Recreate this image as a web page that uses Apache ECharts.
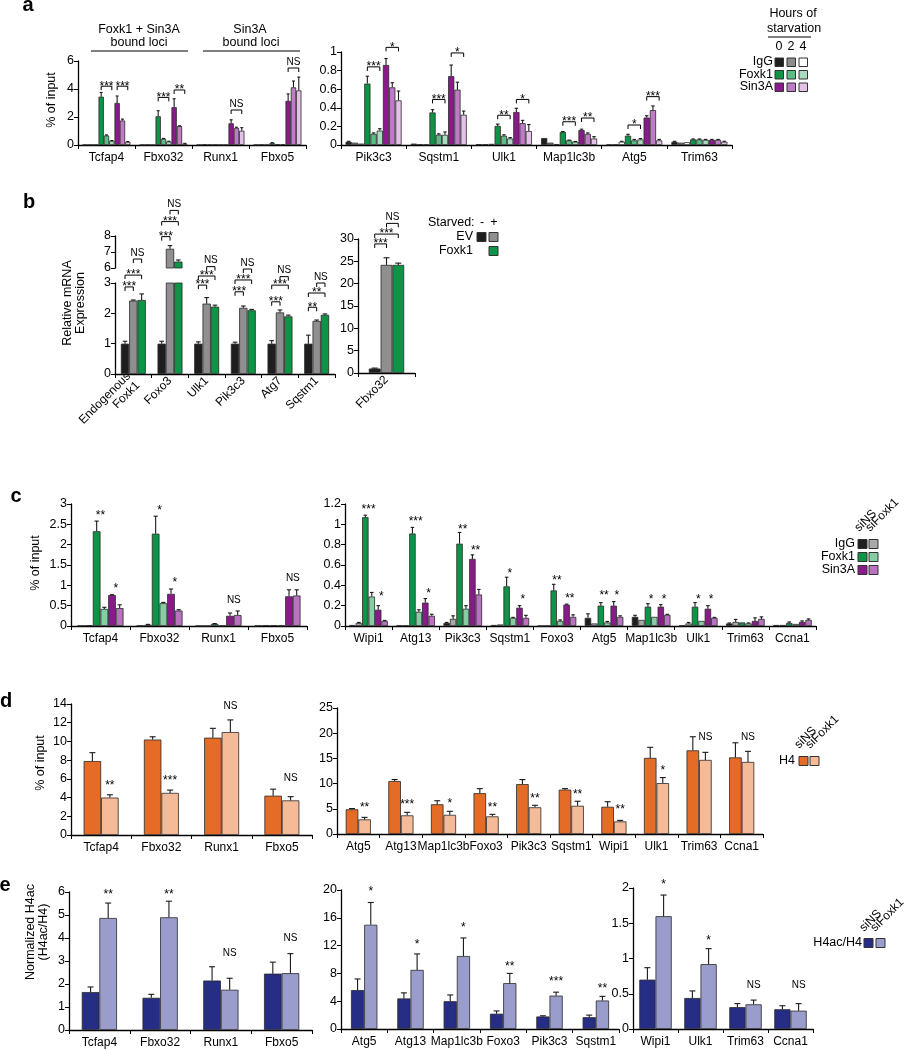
<!DOCTYPE html>
<html><head><meta charset="utf-8"><title>Foxk1 figure</title>
<script src="https://cdn.jsdelivr.net/npm/echarts@6/dist/echarts.min.js"></script>
<style>html,body{margin:0;padding:0;background:#fff;}#chart{width:910px;height:1050px;}</style>
</head><body><div id="chart"></div>
<script>
// ================= DATA =================
// ---- Panel a : ChIP, hours of starvation ----
const aLeftCats = ['Tcfap4','Fbxo32','Runx1','Fbxo5'];
const aRightCats = ['Pik3c3','Sqstm1','Ulk1','Map1lc3b','Atg5','Trim63'];
const aGroups = ['IgG','Foxk1','Sin3A'];
const aHours = ['0','2','4'];
// order per locus: IgG 0/2/4 h, Foxk1 0/2/4 h, Sin3A 0/2/4 h
const aTcfap4    = [0.02,0.02,0.02, 3.45,0.68,0.30, 3.00,1.75,0.22];
const aTcfap4Err = [0,0,0, 0.30,0.04,0.02, 0.50,0.10,0.03];
const aFbxo32    = [0.02,0.02,0.02, 2.05,0.45,0.25, 2.70,1.35,0.10];
const aFbxo32Err = [0,0,0, 0.40,0.02,0.02, 0.60,0.02,0.02];
const aRunx1     = [0.02,0.05,0.03, 0.03,0.02,0.02, 1.55,1.22,1.02];
const aRunx1Err  = [0,0,0, 0,0,0, 0.25,0.05,0.22];
const aFbxo5     = [0.02,0.03,0.02, 0.15,0.05,0.05, 3.15,4.12,3.90];
const aFbxo5Err  = [0,0,0, 0.02,0,0, 0.50,0.45,0.95];
const aPik3c3    = [0.035,0.025,0.015, 0.66,0.12,0.155, 0.86,0.62,0.48];
const aPik3c3Err = [0.005,0,0, 0.08,0.01,0.02, 0.07,0.05,0.10];
const aSqstm1    = [0.015,0.008,0.005, 0.35,0.11,0.11, 0.74,0.595,0.325];
const aSqstm1Err = [0,0,0, 0.03,0.01,0.03, 0.12,0.08,0.04];
const aUlk1      = [0.01,0.008,0.012, 0.205,0.10,0.07, 0.355,0.235,0.15];
const aUlk1Err   = [0,0,0, 0.02,0.01,0.01, 0.04,0.03,0.07];
const aMap1lc3b    = [0.075,0.025,0.01, 0.14,0.05,0.035, 0.16,0.12,0.07];
const aMap1lc3bErr = [0,0,0, 0.005,0.003,0.003, 0.01,0.01,0.02];
const aAtg5      = [0.005,0.005,0.035, 0.10,0.05,0.06, 0.295,0.375,0.05];
const aAtg5Err   = [0,0,0.005, 0.015,0.01,0.01, 0.02,0.045,0.01];
const aTrim63    = [0.035,0.025,0.03, 0.06,0.06,0.055, 0.055,0.055,0.035];
const aTrim63Err = [0.005,0,0, 0.005,0.005,0.005, 0.005,0.005,0.005];
// significance brackets: [locus, y, fromBar, toBar, label]
const aLeftSig  = [[0,4.2,3,5,'***'],[0,4.2,6,8,'***'],[1,3.4,3,5,'***'],[1,3.93,6,8,'**'],[2,2.5,6,8,'NS'],[3,5.5,6,8,'NS']];
const aRightSig = [[0,0.84,3,5,'***'],[0,1.05,6,8,'*'],[1,0.49,3,5,'***'],[1,0.99,6,8,'*'],[2,0.32,3,5,'**'],[2,0.49,6,8,'*'],
                   [3,0.25,3,5,'***'],[3,0.29,6,8,'**'],[4,0.215,3,5,'*'],[4,0.52,6,8,'***']];

// ---- Panel b : relative mRNA expression ----
const bLeftCats = ['Endogenous\nFoxk1','Foxo3','Ulk1','Pik3c3','Atg7','Sqstm1'];
const bRightCats = ['Fbxo32'];
const bSeries = ['EV -','EV +','Foxk1 +'];
const bEV0     = [1.0,1.0,1.0,1.0,1.0,1.0];
const bEV0Err  = [0.08,0.08,0.06,0.05,0.10,0.28];
const bEV1     = [2.42,7.2,2.32,2.18,2.03,1.75];
const bEV1Err  = [0.02,0.2,0.2,0.06,0.08,0.03];
const bFox     = [2.44,6.4,2.22,2.10,1.90,1.95];
const bFoxErr  = [0.2,0.1,0.05,0.03,0.04,0.03];
const bFbxo32    = [1.0,24.2,24.2];
const bFbxo32Err = [0.1,1.6,0.4];
const bLowerSig = [[0,2.87,0,1,'***'],[0,3.26,0,2,'***'],[0,3.79,1,2,'NS'],
                   [2,2.93,0,1,'***'],[2,3.23,0,2,'***'],[2,3.54,1,2,'NS'],
                   [3,2.71,0,1,'***'],[3,3.10,0,2,'***'],[3,3.46,1,2,'NS'],
                   [4,2.38,0,1,'***'],[4,2.93,0,2,'***'],[4,3.21,1,2,'NS'],
                   [5,2.20,0,1,'**'],[5,2.67,0,2,'**'],[5,3.00,1,2,'NS']];
const bUpperSig = [[1,7.96,0,1,'***'],[1,8.9,0,2,'***'],[1,9.6,1,2,'NS']];
const bRightSig = [[0,28.9,0,1,'***'],[0,31.1,0,2,'***'],[0,33.5,1,2,'NS']];

// ---- Panel c : ChIP siNS / siFoxk1 ----
const cLeftCats = ['Tcfap4','Fbxo32','Runx1','Fbxo5'];
const cRightCats = ['Wipi1','Atg13','Pik3c3','Sqstm1','Foxo3','Atg5','Map1lc3b','Ulk1','Trim63','Ccna1'];
// order per locus: IgG siNS/siFoxk1, Foxk1 siNS/siFoxk1, Sin3A siNS/siFoxk1
const cTcfap4    = [0.01,0.02, 2.33,0.42, 0.76,0.44];
const cTcfap4Err = [0,0, 0.25,0.04, 0.01,0.08];
const cFbxo32    = [0.01,0.03, 2.27,0.56, 0.79,0.38];
const cFbxo32Err = [0,0.01, 0.43,0.02, 0.12,0.02];
const cRunx1     = [0.005,0.005, 0.05,0.01, 0.25,0.27];
const cRunx1Err  = [0,0, 0.01,0, 0.07,0.10];
const cFbxo5     = [0.01,0.02, 0.02,0.01, 0.73,0.75];
const cFbxo5Err  = [0,0, 0,0, 0.16,0.14];
const cWipi1     = [0.01,0.03, 1.07,0.29, 0.16,0.05];
const cWipi1Err  = [0,0.005, 0.02,0.04, 0.04,0.005];
const cAtg13     = [0.005,0.005, 0.91,0.14, 0.23,0.10];
const cAtg13Err  = [0,0, 0.06,0.02, 0.04,0.015];
const cPik3c3    = [0.03,0.07, 0.81,0.17, 0.66,0.31];
const cPik3c3Err = [0.005,0.03, 0.11,0.03, 0.04,0.05];
const cSqstm1    = [0.01,0.015, 0.39,0.08, 0.18,0.08];
const cSqstm1Err = [0,0, 0.09,0.005, 0.02,0.025];
const cFoxo3     = [0.002,0.003, 0.35,0.05, 0.21,0.09];
const cFoxo3Err  = [0,0, 0.06,0.01, 0.005,0.02];
const cAtg5      = [0.08,0.025, 0.20,0.035, 0.20,0.09];
const cAtg5Err   = [0.04,0, 0.03,0.01, 0.04,0.01];
const cMap1lc3b    = [0.09,0.06, 0.19,0.09, 0.19,0.11];
const cMap1lc3bErr = [0.015,0, 0.03,0, 0.02,0.005];
const cUlk1      = [0.005,0.025, 0.19,0.05, 0.17,0.08];
const cUlk1Err   = [0,0.01, 0.04,0, 0.03,0.005];
const cTrim63    = [0.025,0.04, 0.035,0.025, 0.05,0.07];
const cTrim63Err = [0.005,0.025, 0,0.005, 0.03,0.02];
const cCcna1     = [0.01,0.01, 0.03,0.02, 0.04,0.06];
const cCcna1Err  = [0,0, 0.01,0, 0.01,0.01];
// significance labels: [locus, y, position (in bar widths), label]
const cLeftSig  = [[0,2.78,3,'**'],[0,1.0,5,'*'],[1,2.9,3,'*'],[1,1.13,5,'*'],[2,0.64,5,'NS'],[3,1.18,5,'NS']];
const cRightSig = [[0,1.17,3,'***'],[0,0.32,5,'*'],[1,1.06,3,'***'],[1,0.35,5,'*'],[2,0.98,3,'**'],[2,0.77,5,'**'],
                   [3,0.54,3,'*'],[3,0.29,5,'*'],[4,0.48,3,'**'],[4,0.30,5,'**'],[5,0.33,3,'**'],[5,0.33,5,'*'],
                   [6,0.29,3,'*'],[6,0.29,5,'*'],[7,0.29,3,'*'],[7,0.29,5,'*']];

// ---- Panel d : H4 ChIP ----
const dLeftCats = ['Tcfap4','Fbxo32','Runx1','Fbxo5'];
const dRightCats = ['Atg5','Atg13','Map1lc3b','Foxo3','Pik3c3','Sqstm1','Wipi1','Ulk1','Trim63','Ccna1'];
const dLeftSiNS      = [7.9,10.2,10.4,4.2];
const dLeftSiNSErr   = [0.9,0.3,1.0,0.7];
const dLeftSiFoxk1   = [4.0,4.5,11.0,3.7];
const dLeftSiFoxk1Err= [0.3,0.3,1.3,0.4];
const dRightSiNS      = [4.9,10.5,5.9,8.1,9.9,8.8,5.4,15.1,16.6,15.2];
const dRightSiNSErr   = [0.15,0.3,0.7,0.9,0.9,0.2,1.0,2.1,2.7,2.9];
const dRightSiFoxk1   = [2.9,3.7,3.8,3.5,5.3,5.6,2.5,10.1,14.7,14.3];
const dRightSiFoxk1Err= [0.4,0.6,0.7,0.4,0.4,0.9,0.2,1.1,1.5,2.1];
const dLeftSig  = [[0,5.6,1.5,'**'],[1,6.1,1.5,'***'],[2,13.8,1.5,'NS'],[3,6.1,1.5,'NS']];
const dRightSig = [[0,5.75,1.5,'**'],[1,6.4,1.5,'***'],[2,6.7,1.5,'*'],[3,5.75,1.5,'**'],[4,7.7,1.5,'**'],
                   [5,8.4,1.5,'**'],[6,5.4,1.5,'**'],[7,13.2,1.5,'*'],[8,19.1,1.5,'NS'],[9,19.1,1.5,'NS']];

// ---- Panel e : normalized H4ac ----
const eLeftCats = ['Tcfap4','Fbxo32','Runx1','Fbxo5'];
const eMidCats = ['Atg5','Atg13','Map1lc3b','Foxo3','Pik3c3','Sqstm1'];
const eRightCats = ['Wipi1','Ulk1','Trim63','Ccna1'];
const eLeftSiNS       = [1.65,1.40,2.15,2.45];
const eLeftSiNSErr    = [0.22,0.15,0.60,0.50];
const eLeftSiFoxk1    = [4.87,4.90,1.75,2.47];
const eLeftSiFoxk1Err = [0.65,0.70,0.50,0.85];
const eMidSiNS        = [5.6,4.4,4.0,2.2,1.8,1.7];
const eMidSiNSErr     = [1.6,0.8,0.9,0.4,0.1,0.3];
const eMidSiFoxk1     = [15.0,8.5,10.5,6.6,4.8,4.1];
const eMidSiFoxk1Err  = [3.2,2.3,2.6,1.4,0.5,0.6];
const eRightSiNS      = [0.70,0.44,0.31,0.28];
const eRightSiNSErr   = [0.17,0.10,0.05,0.05];
const eRightSiFoxk1   = [1.60,0.92,0.35,0.26];
const eRightSiFoxk1Err= [0.30,0.22,0.06,0.10];
const eLeftSig  = [[0,6.0,1.5,'**'],[1,6.0,1.5,'**'],[2,3.34,1.5,'NS'],[3,4.0,1.5,'NS']];
const eMidSig   = [[0,20.2,1.5,'*'],[1,12.6,1.5,'*'],[2,15.0,1.5,'*'],[3,9.45,1.5,'**'],[4,7.3,1.5,'***'],[5,6.3,1.5,'**']];
const eRightSig = [[0,2.09,1.5,'*'],[1,1.29,1.5,'*'],[2,0.62,1.5,'NS'],[3,0.62,1.5,'NS']];

// ================= STYLE =================
const FONT = '"Liberation Sans", Arial, Helvetica, sans-serif';
const A_COLORS = ['#1e1e1e','#8c8c8c','#ffffff','#0e9447','#5bbd85','#a9dcbf','#8a1a8a','#bf7cc6','#e4c1e7'];
const B_COLORS = ['#1e1e1e','#8f8f8f','#0e9447'];
const C_COLORS = ['#1e1e1e','#a8a8a8','#0e9447','#86cda3','#8a1a8a','#b872bf'];
const D_COLORS = ['#e46c26','#f5bb98'];
const E_COLORS = ['#262d84','#9a9dcb'];

const option = {animation:false, backgroundColor:'#ffffff', grid:[], xAxis:[], yAxis:[], series:[], graphic:[]};

function transpose(rows){ return rows[0].map((_,i)=>rows.map(r=>r[i])); }
function tStyle(text, size, align, valign, weight){
  return {text:text, fill:'#000', fontSize:size, fontFamily:FONT, fontWeight:weight||'normal',
          textAlign:align, textVerticalAlign:valign, align:align, verticalAlign:valign};
}
function barX(api, c, pos, n, gap){
  const band = api.size([1,0])[0];
  const total = band*(1-gap);
  return api.coord([c,0])[0] - total/2 + total/n*pos;
}
function errRenderer(n, gap){
  return function(params, api){
    const c = api.value(0), v = api.value(1), e = api.value(2), i = api.value(3);
    const x = barX(api, c, i+0.5, n, gap);
    const y0 = api.coord([c, v])[1], y1 = api.coord([c, v+e])[1];
    const w = api.size([1,0])[0]*(1-gap)/n;
    const cap = Math.min(Math.max(w*0.55, 3), 6);
    return {type:'group', children:[
      {type:'line', shape:{x1:x,y1:y0,x2:x,y2:y1}, style:{stroke:'#1a1a1a', lineWidth:1.1}},
      {type:'line', shape:{x1:x-cap/2,y1:y1,x2:x+cap/2,y2:y1}, style:{stroke:'#1a1a1a', lineWidth:1.1}}
    ]};
  };
}
function bracketRenderer(list, n, gap){
  return function(params, api){
    const d = list[params.dataIndex];
    const c = d[0];
    const x1 = barX(api,c,d[2]+0.5,n,gap), x2 = barX(api,c,d[3]+0.5,n,gap);
    const py = api.coord([c,d[1]])[1];
    const star = d[4].indexOf('*')>=0;
    return {type:'group', children:[
      {type:'polyline', shape:{points:[[x1,py+4],[x1,py],[x2,py],[x2,py+4]]}, style:{stroke:'#000', fill:null, lineWidth:1}},
      {type:'text', x:(x1+x2)/2, y: star ? py+6 : py-1, style:tStyle(d[4], star?12:10, 'center', 'bottom')}
    ]};
  };
}
function labelRenderer(list, n, gap){
  return function(params, api){
    const d = list[params.dataIndex];
    const x = barX(api, d[0], d[2], n, gap);
    const py = api.coord([d[0], d[1]])[1];
    const star = d[3].indexOf('*')>=0;
    return {type:'text', x:x, y: star ? py+3 : py, style:tStyle(d[3], star?12:10, 'center', 'middle')};
  };
}

function addPanel(p){
  const gi = option.grid.length;
  const n = p.vals.length;
  const showX = p.xLine !== false;
  option.grid.push({left:p.left, top:p.top, width:p.width, height:p.height, containLabel:false});
  option.xAxis.push({type:'category', gridIndex:gi, data:p.cats, boundaryGap:true, show:true,
    axisLine:{show:showX, onZero:false, lineStyle:{color:'#000', width:1.3}},
    axisTick:{show:showX, length:4, lineStyle:{color:'#000', width:1}},
    splitLine:{show:false},
    axisLabel:{show:p.xLabels !== false, interval:0, rotate:p.rotate||0, margin:p.margin||6,
               color:'#000', fontSize:12, fontFamily:FONT, lineHeight:13}});
  option.yAxis.push({type:'value', gridIndex:gi, min:p.min, max:p.max, interval:p.interval,
    axisLine:{show:true, lineStyle:{color:'#000', width:1.3}},
    axisTick:{show:true, length:4, lineStyle:{color:'#000', width:1}},
    splitLine:{show:false},
    axisLabel:{margin:4, color:'#000', fontSize:12.5, fontFamily:FONT}});
  const keep = p.keep || (()=>true);
  p.vals.forEach((row,i)=>{
    option.series.push({type:'bar', name:(p.names? p.names[i] : 's'+i), xAxisIndex:gi, yAxisIndex:gi,
      barGap:'0%', barCategoryGap:(p.gap*100)+'%', clip:true, silent:true, z:2,
      data:row.map(v=>keep(v) ? v : '-'),
      itemStyle:{color:p.colors[i], borderColor:'#2a2a2a', borderWidth:0.8}});
  });
  const errData = [];
  p.vals.forEach((row,i)=>row.forEach((v,c)=>{
    const e = p.errs[i][c];
    if (e > 0 && keep(v) && v+e <= p.max) errData.push([c, v, e, i]);
  }));
  option.series.push({type:'custom', xAxisIndex:gi, yAxisIndex:gi, silent:true, z:3,
    data:errData, renderItem:errRenderer(n, p.gap)});
  if (p.brackets) option.series.push({type:'custom', xAxisIndex:gi, yAxisIndex:gi, silent:true, z:4, clip:false,
    data:p.brackets.map(d=>[d[0], d[1]]), renderItem:bracketRenderer(p.brackets, n, p.gap)});
  if (p.labels) option.series.push({type:'custom', xAxisIndex:gi, yAxisIndex:gi, silent:true, z:4, clip:false,
    data:p.labels.map(d=>[d[0], d[1]]), renderItem:labelRenderer(p.labels, n, p.gap)});
}

// ---- panel a ----
addPanel({left:78, top:61, width:228, height:84, min:0, max:6, interval:2, gap:0.16, colors:A_COLORS, cats:aLeftCats,
  vals:transpose([aTcfap4,aFbxo32,aRunx1,aFbxo5]), errs:transpose([aTcfap4Err,aFbxo32Err,aRunx1Err,aFbxo5Err]), brackets:aLeftSig});
addPanel({left:341, top:52, width:391, height:93, min:0, max:1, interval:0.2, gap:0.14, colors:A_COLORS, cats:aRightCats,
  vals:transpose([aPik3c3,aSqstm1,aUlk1,aMap1lc3b,aAtg5,aTrim63]),
  errs:transpose([aPik3c3Err,aSqstm1Err,aUlk1Err,aMap1lc3bErr,aAtg5Err,aTrim63Err]), brackets:aRightSig});
// ---- panel b (broken axis: lower 0-3, upper 6-8) ----
addPanel({left:115, top:283, width:220, height:91, min:0, max:3, interval:1, gap:0.32, colors:B_COLORS, cats:bLeftCats, names:bSeries,
  rotate:45, margin:5, vals:[bEV0,bEV1,bFox], errs:[bEV0Err,bEV1Err,bFoxErr], brackets:bLowerSig});
addPanel({left:115, top:236, width:220, height:32, min:6, max:8, interval:1, gap:0.32, colors:B_COLORS, cats:bLeftCats, names:bSeries,
  xLine:false, xLabels:false, keep:v=>v>=6, vals:[bEV0,bEV1,bFox], errs:[bEV0Err,bEV1Err,bFoxErr], brackets:bUpperSig});
addPanel({left:358, top:239, width:57, height:134, min:0, max:30, interval:5, gap:0.38, colors:B_COLORS, cats:bRightCats, names:bSeries,
  rotate:45, margin:5, vals:bFbxo32.map(v=>[v]), errs:bFbxo32Err.map(v=>[v]), brackets:bRightSig});
// ---- panel c ----
addPanel({left:71, top:504, width:236, height:122, min:0, max:3, interval:0.5, gap:0.22, colors:C_COLORS, cats:cLeftCats,
  vals:transpose([cTcfap4,cFbxo32,cRunx1,cFbxo5]), errs:transpose([cTcfap4Err,cFbxo32Err,cRunx1Err,cFbxo5Err]), labels:cLeftSig});
addPanel({left:345, top:504, width:471, height:122, min:0, max:1.2, interval:0.2, gap:0.18, colors:C_COLORS, cats:cRightCats,
  vals:transpose([cWipi1,cAtg13,cPik3c3,cSqstm1,cFoxo3,cAtg5,cMap1lc3b,cUlk1,cTrim63,cCcna1]),
  errs:transpose([cWipi1Err,cAtg13Err,cPik3c3Err,cSqstm1Err,cFoxo3Err,cAtg5Err,cMap1lc3bErr,cUlk1Err,cTrim63Err,cCcna1Err]), labels:cRightSig});
// ---- panel d ----
addPanel({left:71, top:704, width:241, height:131, min:0, max:14, interval:2, gap:0.42, colors:D_COLORS, cats:dLeftCats,
  vals:[dLeftSiNS,dLeftSiFoxk1], errs:[dLeftSiNSErr,dLeftSiFoxk1Err], labels:dLeftSig});
addPanel({left:337, top:708, width:426, height:126, min:0, max:25, interval:5, gap:0.41, colors:D_COLORS, cats:dRightCats,
  vals:[dRightSiNS,dRightSiFoxk1], errs:[dRightSiNSErr,dRightSiFoxk1Err], labels:dRightSig});
// ---- panel e ----
addPanel({left:69, top:892, width:243, height:138, min:0, max:6, interval:1, gap:0.42, colors:E_COLORS, cats:eLeftCats,
  vals:[eLeftSiNS,eLeftSiFoxk1], errs:[eLeftSiNSErr,eLeftSiFoxk1Err], labels:eLeftSig});
addPanel({left:341, top:890, width:278, height:139, min:0, max:20, interval:4, gap:0.43, colors:E_COLORS, cats:eMidCats,
  vals:[eMidSiNS,eMidSiFoxk1], errs:[eMidSiNSErr,eMidSiFoxk1Err], labels:eMidSig});
addPanel({left:633, top:888, width:180, height:141, min:0, max:2, interval:0.5, gap:0.28, colors:E_COLORS, cats:eRightCats,
  vals:[eRightSiNS,eRightSiFoxk1], errs:[eRightSiNSErr,eRightSiFoxk1Err], labels:eRightSig});

// ================= GRAPHICS (letters, titles, legends) =================
const G = option.graphic;
function txt(x, y, s, size, align, valign, weight, rot){
  G.push({type:'text', x:x, y:y, rotation:rot||0, silent:true, style:tStyle(s, size, align||'center', valign||'middle', weight)});
}
function line(x1,y1,x2,y2){ G.push({type:'line', silent:true, shape:{x1,y1,x2,y2}, style:{stroke:'#000', lineWidth:1}}); }
function sq(x, y, fill, s){ s=s||9; G.push({type:'rect', silent:true, shape:{x:x, y:y, width:s, height:s}, style:{fill:fill, stroke:'#333', lineWidth:1}}); }

// panel letters
txt(28, 5, 'a', 20, 'center', 'middle', 'bold');
txt(29, 202, 'b', 20, 'center', 'middle', 'bold');
txt(16, 496, 'c', 20, 'center', 'middle', 'bold');
txt(6, 701, 'd', 20, 'center', 'middle', 'bold');
txt(5, 885, 'e', 20, 'center', 'middle', 'bold');

// y-axis names
const R = Math.PI/2;
txt(52, 100, '% of input', 12.5, 'center', 'middle', 'normal', R);
txt(74, 303, 'Relative mRNA\nExpression', 12.5, 'center', 'middle', 'normal', R);
txt(36, 563, '% of input', 12.5, 'center', 'middle', 'normal', R);
txt(41, 763, '% of input', 12.5, 'center', 'middle', 'normal', R);
txt(37, 932, 'Normalized H4ac\n(H4ac/H4)', 12.5, 'center', 'middle', 'normal', R);

// panel a header
txt(139, 30, 'Foxk1 + Sin3A', 12.5); txt(139, 43, 'bound loci', 12.5); line(91, 51, 188, 51);
txt(250, 30, 'Sin3A', 12.5); txt(251, 43, 'bound loci', 12.5); line(203, 51, 300, 51);

// panel a legend
txt(793, 14, 'Hours of', 12.5); txt(794, 29, 'starvation', 12.5); line(768, 37, 811, 37);
aHours.forEach((h,j)=>txt(779+j*12, 47, h, 12.5));
aGroups.forEach((g,r)=>{
  txt(773, 62+r*12.5, g, 12.5, 'right');
  for (let j=0;j<3;j++) sq(775+j*12, 58+r*12.5, A_COLORS[r*3+j], 8.5);
});

// panel b legend
txt(428, 223, 'Starved:', 12.5, 'left'); txt(482, 223, '-', 12.5); txt(494, 223, '+', 12.5);
txt(473, 237, 'EV', 12.5, 'right'); sq(477, 232.5, B_COLORS[0]); sq(489, 232.5, B_COLORS[1]);
txt(473, 251, 'Foxk1', 12.5, 'right'); sq(489, 246.5, B_COLORS[2]);

// panel c legend
const Q = Math.PI/4;
txt(861, 534, 'siNS', 12, 'left', 'bottom', 'normal', Q);
txt(872, 534, 'siFoxk1', 12, 'left', 'bottom', 'normal', Q);
aGroups.forEach((g,r)=>{
  txt(855, 544+r*13, g, 12.5, 'right');
  sq(858, 539.5+r*13, C_COLORS[r*2]); sq(869, 539.5+r*13, C_COLORS[r*2+1]);
});

// panel d legend
txt(801, 751, 'siNS', 12, 'left', 'bottom', 'normal', Q);
txt(812, 751, 'siFoxk1', 12, 'left', 'bottom', 'normal', Q);
txt(795, 761, 'H4', 12.5, 'right'); sq(799, 756.5, D_COLORS[0]); sq(810, 756.5, D_COLORS[1]);

// panel e legend
txt(866, 934, 'siNS', 12, 'left', 'bottom', 'normal', Q);
txt(877, 934, 'siFoxk1', 12, 'left', 'bottom', 'normal', Q);
txt(862, 943, 'H4ac/H4', 12.5, 'right'); sq(864, 938.5, E_COLORS[0]); sq(876, 938.5, E_COLORS[1]);

const chart = echarts.init(document.getElementById('chart'), null, {renderer:'canvas'});
chart.setOption(option);
</script></body></html>
